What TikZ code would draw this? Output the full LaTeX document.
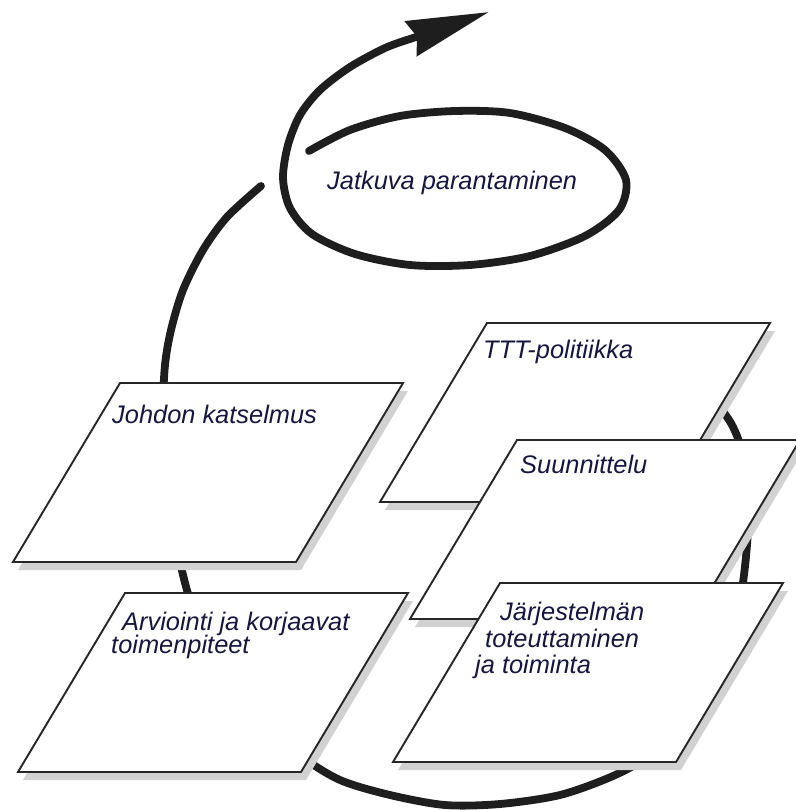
\documentclass[tikz,border=0pt]{standalone}
\usepackage{fontspec}
\setmainfont{Liberation Sans}
\usepackage{tikz}
\usetikzlibrary{arrows.meta}

\definecolor{inkblue}{RGB}{22,22,62}
\definecolor{loopc}{RGB}{30,30,30}

\tikzset{
  loopline/.style={line width=7.8pt, draw=loopc, line cap=round},
  tileline/.style={fill=white, draw=black!85, line width=1.9pt, line join=miter},
  tileshade/.style={fill=black!18},
  lbl/.style={font=\fontsize{25.4}{27}\selectfont\itshape, text=inkblue, inner sep=0pt, anchor=base west}
}

% one slanted tile with its shadow, from the top left corner
\newcommand{\tilebox}[2]{%
  \fill[tileshade, shift={(5,8)}] (#1,#2) -- ++(283,0) -- ++(-107,179) -- ++(-283,0) -- cycle;
  \draw[tileline] (#1,#2) -- ++(283,0) -- ++(-107,179) -- ++(-283,0) -- cycle;
}

\begin{document}
\begin{tikzpicture}[x=1pt, y=-1pt]
    \useasboundingbox (0,0) rectangle (795,810);

    % the big cycle behind the tiles
    \draw[loopline] plot[smooth] coordinates {
      (693,384) (715,402) (732,425) (743,455) (748,500) (747,545) (740,600)
      (722,660) (690,717) (650,755) (613,776) (560,795) (500,804) (445,805)
      (390,795) (340,780) (300,755) (250,710) (215,660) (195,615) (183,575)
      (172,520) (165,460) (163,410) (165,365) (171,330) (183,290) (203,250)
      (227,217) (261,186)};

    % the spiral round the text, out to the arrow
    \draw[loopline, -{Stealth[length=82pt, width=36pt, inset=6pt]}] plot[smooth] coordinates {
      (309,151) (350,130) (400,116) (455,111) (510,113) (565,128) (605,150)
      (626,180) (619,210) (585,236) (530,256) (470,265) (410,265) (355,254)
      (312,234) (290,208) (283,178) (288,145) (300,115) (320,90) (350,67)
      (385,48) (410,39)} -- (489,12);

    \tilebox{120}{383}
    \tilebox{125}{593}
    \tilebox{487}{323}
    \tilebox{517}{440}
    \tilebox{500}{583}

    \node[lbl] (jatkuva) at (327,190) {Jatkuva parantaminen};
    \node[lbl] (johdon) at (112,423) {Johdon katselmus};
    \node[lbl] (ttt) at (483,358) {TTT-politiikka};
    \node[lbl] (suunn) at (520,473) {Suunnittelu};
    \node[lbl] (arvio) at (122,630) {Arviointi ja korjaavat};
    \node[lbl] (arviob) at (111,653) {toimenpiteet};
    \node[lbl] (jarj) at (500,620) {Järjestelmän};
    \node[lbl] (jarjb) at (485,647) {toteuttaminen};
    \node[lbl] (jarjc) at (475,673) {ja toiminta};
\end{tikzpicture}
\end{document}
